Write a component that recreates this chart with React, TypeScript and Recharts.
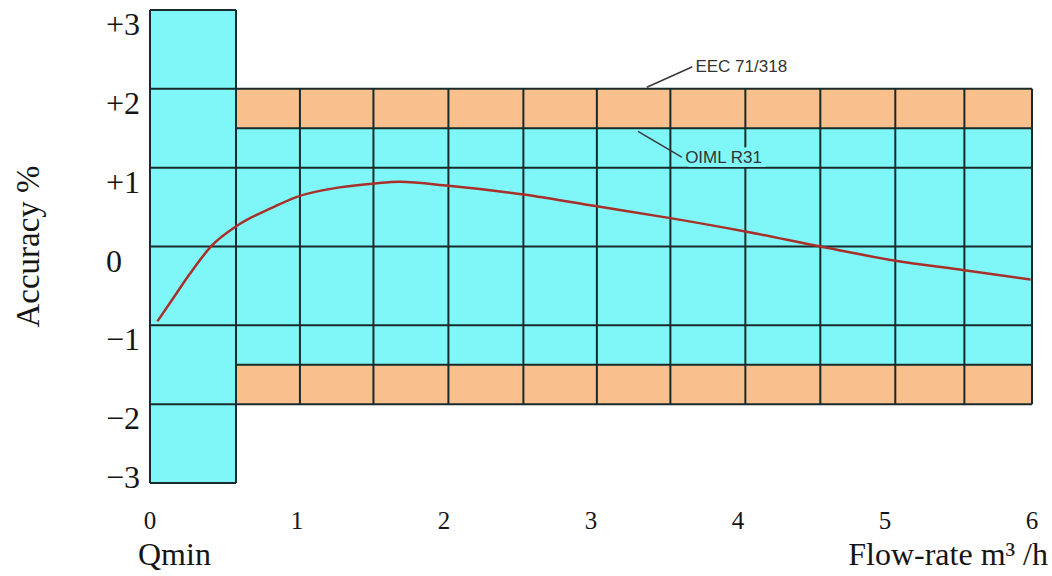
import React from "react";
import {
  ComposedChart,
  Line,
  XAxis,
  YAxis,
  ReferenceArea,
  ReferenceLine,
  ReferenceDot,
  Label,
} from "recharts";

// error curve of the meter
const flowRate = [0.05, 0.16, 0.27, 0.42, 0.59, 0.84, 1.0, 1.29, 1.53, 1.7, 2.03, 2.54, 3.04, 3.54, 4.05, 4.56, 5.07, 5.54, 5.99];
const accuracy = [-0.95, -0.65, -0.35, 0.01, 0.26, 0.5, 0.63, 0.75, 0.8, 0.82, 0.77, 0.66, 0.51, 0.36, 0.19, 0, -0.18, -0.3, -0.42];

const xTicks = [0, 1, 2, 3, 4, 5, 6];
const yTicks = [-3, -2, -1, 0, 1, 2, 3];

// limits of the bands
const qminEdge = 0.585;
const qminLimit = 3;
const eecLimit = 2;
const oimlLimit = 1.5;
const columnEdges = [1.02, 1.52, 2.03, 2.54, 3.04, 3.54, 4.05, 4.56, 5.07, 5.54, 6];
const fullRows = [-2, -1, 0, 1, 2];

// annotations: name, leader start, leader end
const noteNames = ["EEC 71/318", "OIML R31"];
const noteFrom = [
  { x: 3.38, y: 2.02 },
  { x: 3.32, y: 1.46 },
];
const noteTo = [
  { x: 3.69, y: 2.28 },
  { x: 3.62, y: 1.13 },
];

const data = flowRate.map((q, i) => ({ q, acc: accuracy[i] }));

const CYAN = "#7FF7F8";
const ORANGE = "#F9BF8D";
const GRID = "#172b2b";
const SERIF = "'Liberation Serif', 'Times New Roman', serif";
const INK = "#151515";

const YTick = (props: any) => {
  const { x, y, payload } = props;
  const v = payload.value;
  const text = v > 0 ? `+${v}` : v < 0 ? `\u2212${-v}` : "0";
  return (
    <text
      x={x - 44}
      y={y + (v === -3 ? -6 : 14)}
      textAnchor="start"
      dominantBaseline="central"
      fontFamily={SERIF}
      fontSize={32}
      fill={INK}
    >
      {text}
    </text>
  );
};

// note text with a halo so grid lines don't run through it
const noteLabel = (value: string, halo: string) => (props: any) => {
  const { viewBox } = props;
  return (
    <text
      x={viewBox.x + 3}
      y={viewBox.y}
      dominantBaseline="central"
      fontFamily="'Liberation Sans', Arial, sans-serif"
      fontSize={17}
      fill="#333"
      stroke={halo}
      strokeWidth={8}
      paintOrder="stroke"
    >
      {value}
    </text>
  );
};

const App = () => {
  return (
    <div style={{ position: "absolute", left: 0, top: 0, background: "#fff" }}>
      <ComposedChart
        width={1052}
        height={576}
        data={data}
        margin={{ top: 10, right: 20, left: 0, bottom: 0 }}
      >
        <XAxis
          dataKey="q"
          type="number"
          domain={[0, 6]}
          ticks={xTicks}
          axisLine={false}
          tickLine={false}
          tickSize={0}
          tickMargin={28}
          height={93}
          tick={{ fontFamily: SERIF, fontSize: 25, fill: INK }}
        >
          <Label
            value="Qmin"
            position="insideBottomLeft"
            offset={0}
            dx={-12}
            dy={-11}
            style={{ fontFamily: SERIF, fontSize: 32, fill: INK }}
          />
          <Label
            value="Flow-rate m³ /h"
            position="insideBottomRight"
            offset={0}
            dx={16}
            dy={-11}
            style={{ fontFamily: SERIF, fontSize: 32, fill: INK }}
          />
        </XAxis>
        <YAxis
          type="number"
          domain={[-3, 3]}
          ticks={yTicks}
          width={150}
          axisLine={false}
          tickLine={false}
          tickSize={0}
          tickMargin={0}
          tick={<YTick />}
        >
          <Label
            value="Accuracy %"
            angle={-90}
            position="center"
            dx={-48}
            style={{ fontFamily: SERIF, fontSize: 33, fill: INK }}
          />
        </YAxis>

        {/* coloured bands */}
        <ReferenceArea x1={0} x2={qminEdge} y1={-qminLimit} y2={qminLimit} fill={CYAN} fillOpacity={1} />
        <ReferenceArea x1={qminEdge} x2={6} y1={oimlLimit} y2={eecLimit} fill={ORANGE} fillOpacity={1} />
        <ReferenceArea x1={qminEdge} x2={6} y1={-oimlLimit} y2={oimlLimit} fill={CYAN} fillOpacity={1} />
        <ReferenceArea x1={qminEdge} x2={6} y1={-eecLimit} y2={-oimlLimit} fill={ORANGE} fillOpacity={1} />

        {/* grid drawn as segments */}
        {[-qminLimit, qminLimit].map((y) => (
          <ReferenceLine key={`hq${y}`} segment={[{ x: 0, y }, { x: qminEdge, y }]} stroke={GRID} strokeWidth={2} />
        ))}
        {fullRows.map((y) => (
          <ReferenceLine key={`hf${y}`} segment={[{ x: 0, y }, { x: 6, y }]} stroke={GRID} strokeWidth={2} />
        ))}
        {[-oimlLimit, oimlLimit].map((y) => (
          <ReferenceLine key={`ho${y}`} segment={[{ x: qminEdge, y }, { x: 6, y }]} stroke={GRID} strokeWidth={2} />
        ))}
        {[0, qminEdge].map((x) => (
          <ReferenceLine key={`vq${x}`} segment={[{ x, y: -qminLimit }, { x, y: qminLimit }]} stroke={GRID} strokeWidth={2} />
        ))}
        {columnEdges.map((x) => (
          <ReferenceLine key={`vc${x}`} segment={[{ x, y: -eecLimit }, { x, y: eecLimit }]} stroke={GRID} strokeWidth={2} />
        ))}

        {/* annotations */}
        {noteNames.map((name, i) => (
          <ReferenceLine
            key={`lead${name}`}
            segment={[noteFrom[i], noteTo[i]]}
            stroke="#3a3a3a"
            strokeWidth={1.5}
          />
        ))}
        {noteNames.map((name, i) => (
          <ReferenceDot
            key={`note${name}`}
            x={noteTo[i].x}
            y={noteTo[i].y}
            r={0}
            stroke="none"
            fill="none"
            label={{ content: noteLabel(name, i === 0 ? "#fff" : CYAN) }}
          />
        ))}

        <Line
          type="monotone"
          dataKey="acc"
          stroke="#a8302a"
          strokeWidth={2.5}
          dot={false}
          activeDot={false}
          isAnimationActive={false}
        />
      </ComposedChart>
    </div>
  );
};

export default App;
